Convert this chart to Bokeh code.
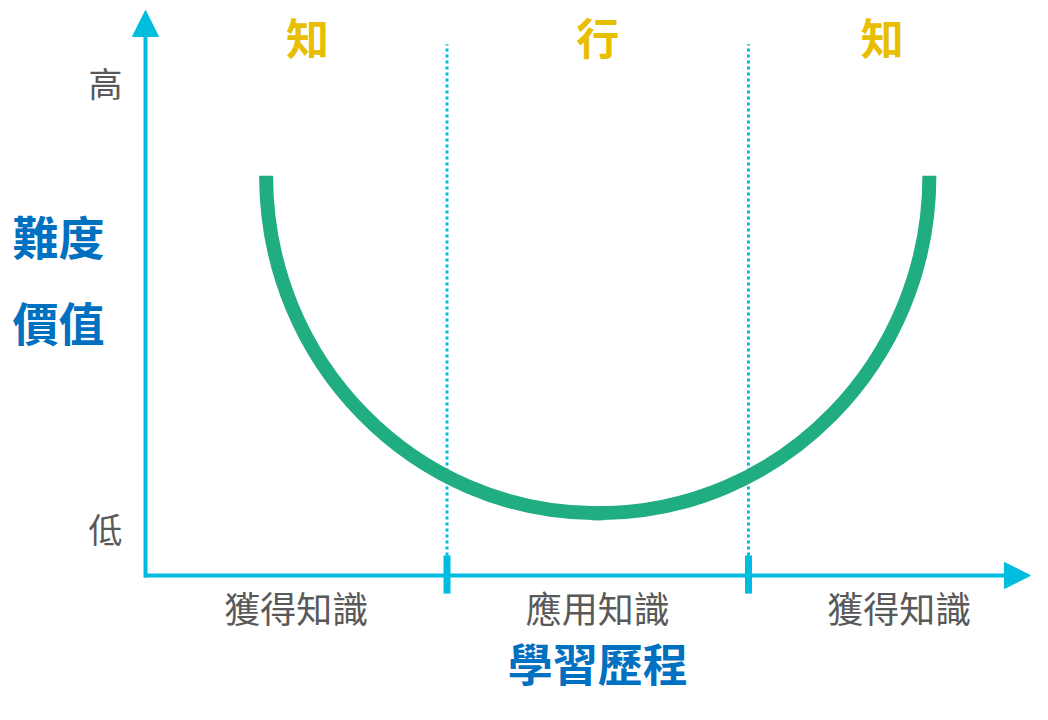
from bokeh.plotting import figure
from bokeh.models import Range1d, Arrow, NormalHead, ColumnDataSource
from bokeh.core.properties import value
from bokeh.embed import file_html
from bokeh.resources import INLINE

# ---- data ----
stages = ["獲得知識", "應用知識", "獲得知識"]     # x-axis segment labels
phases = ["知", "行", "知"]                      # phase labels above
stage_bounds = [1, 2]                            # stage boundaries (stage units)
levels = ["高", "低"]                            # y-axis level labels
level_values = [1.0, 0.09]
y_title_lines = ["難度", "價值"]
x_title = "學習歷程"
curve_ends_x = [0.4, 2.6]                        # U-curve start/end (stage units)
curve_top = 0.816                                # level at curve ends
curve_bottom = 0.127                             # level at curve minimum

# ---- style ----
CYAN = "#00BCDF"
GREEN = "#21AD82"
YELLOW = "#E8BE00"
BLUE = "#0070C0"
GRAY = "#595959"
FONT = value("Noto Sans CJK TC")

p = figure(width=1032, height=704,
           x_range=Range1d(-0.48093, 2.94196), y_range=Range1d(-0.26327, 1.17347),
           x_axis_type=None, y_axis_type=None,
           output_backend="svg", toolbar_location=None, min_border=0)
p.outline_line_color = None
p.grid.visible = False
p.background_fill_color = "white"
p.border_fill_color = "white"

# dotted stage separators
p.segment(x0=stage_bounds, y0=[0.041] * len(stage_bounds),
          x1=stage_bounds, y1=[1.084] * len(stage_bounds),
          line_color=CYAN, line_width=3, line_dash="3 3")

# axes with arrow heads
p.add_layout(Arrow(end=NormalHead(size=26, fill_color=CYAN, line_color=CYAN, line_width=1),
                   x_start=0, y_start=-0.004, x_end=0, y_end=1.153,
                   line_color=CYAN, line_width=4))
p.add_layout(Arrow(end=NormalHead(size=26, fill_color=CYAN, line_color=CYAN, line_width=1),
                   x_start=-0.005, y_start=0, x_end=2.935, y_end=0,
                   line_color=CYAN, line_width=4))

# tick marks on x-axis at stage boundaries
p.segment(x0=stage_bounds, y0=[-0.037] * len(stage_bounds),
          x1=stage_bounds, y1=[0.041] * len(stage_bounds),
          line_color=CYAN, line_width=7, line_cap="butt")

# U-shaped curve (two quarter-ellipse beziers)
k = 0.5523
xl, xr = curve_ends_x
xc = (xl + xr) / 2
hx = (xr - xl) / 2
dy = curve_top - curve_bottom
curve_src = ColumnDataSource(dict(
    x0=[xl, xc], y0=[curve_top, curve_bottom],
    x1=[xc, xr], y1=[curve_bottom, curve_top],
    cx0=[xl, xc + k * hx], cy0=[curve_top - k * dy, curve_bottom],
    cx1=[xc - k * hx, xr], cy1=[curve_bottom, curve_top - k * dy],
))
p.bezier(x0="x0", y0="y0", x1="x1", y1="y1", cx0="cx0", cy0="cy0", cx1="cx1", cy1="cy1",
         source=curve_src, line_color=GREEN, line_width=14, line_cap="butt")
# cover the join at the minimum
p.segment(x0=[xc - 0.02], y0=[curve_bottom], x1=[xc + 0.02], y1=[curve_bottom],
          line_color=GREEN, line_width=14, line_cap="butt")

# phase labels
p.text(x=[0.537, 1.5, 2.444], y=[1.102] * len(phases), text=phases,
       text_font=FONT, text_font_size="43px", text_font_style="bold",
       text_color=YELLOW, text_align="center", text_baseline="middle")

# stage labels below x-axis
stage_centers = [i + 0.5 for i in range(len(stages))]
p.text(x=stage_centers, y=[-0.0653] * len(stages), text=stages,
       text_font=FONT, text_font_size="36px",
       text_color=GRAY, text_align="center", text_baseline="middle")

# level labels
p.text(x=[-0.1327] * len(levels), y=[v + 0.006 for v in level_values], text=levels,
       text_font=FONT, text_font_size="34px",
       text_color=GRAY, text_align="center", text_baseline="middle")

# y title
p.text(x=[-0.2886] * len(y_title_lines), y=[0.694, 0.520], text=y_title_lines,
       text_font=FONT, text_font_size="46px", text_font_style="bold",
       text_color=BLUE, text_align="center", text_baseline="middle")

# x title
p.text(x=[1.5], y=[-0.1776], text=[x_title],
       text_font=FONT, text_font_size="45px", text_font_style="bold",
       text_color=BLUE, text_align="center", text_baseline="middle")

open("out.html", "w").write(file_html(p, INLINE))
